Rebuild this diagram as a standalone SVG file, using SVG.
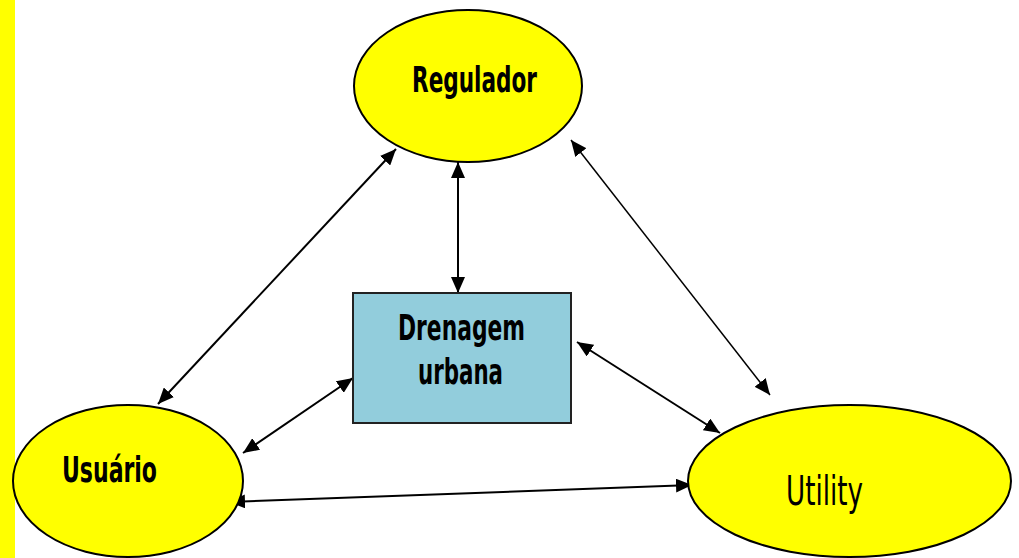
<svg xmlns="http://www.w3.org/2000/svg" width="1019" height="558" viewBox="0 0 1019 558">
  <style>
    .node { fill: #ffff00; stroke: #000; stroke-width: 2; }
    .box { fill: #92cddc; stroke: #222; stroke-width: 2; }
    .lbl { font-family: "Liberation Sans Narrow", "DejaVu Sans Condensed", "Liberation Sans", sans-serif; fill: #000; text-anchor: middle; }
    .bold { font-weight: bold; font-size: 36px; }
    .plain { font-size: 41px; }
    .link { stroke: #000; stroke-width: 2; fill: none; marker-start: url(#head); marker-end: url(#head); }
    .thin { stroke-width: 1.5; }
  </style>
  <defs>
    <marker id="head" viewBox="0 0 16 14" refX="16" refY="7" markerWidth="16" markerHeight="14" markerUnits="userSpaceOnUse" orient="auto-start-reverse">
      <path d="M0,0 L16,7 L0,14 Z" fill="#000"/>
    </marker>
  </defs>

  <rect x="0" y="0" width="1019" height="558" fill="#fff"/>
  <rect x="0" y="0" width="15" height="558" fill="#ffff00"/>

  <g id="connectors">
    <line class="link" x1="158" y1="404" x2="396" y2="149"/>
    <line class="link" x1="458" y1="162" x2="458" y2="293"/>
    <line class="link thin" x1="571" y1="140" x2="770" y2="395"/>
    <line class="link" x1="577" y1="342" x2="720" y2="433"/>
    <line class="link" x1="243" y1="453" x2="353" y2="378"/>
    <line class="link" x1="229" y1="502" x2="692" y2="485"/>
  </g>

  <g id="regulador">
    <ellipse class="node" cx="468" cy="86" rx="114" ry="76"/>
    <text class="lbl bold" x="474.5" y="92" textLength="125" lengthAdjust="spacingAndGlyphs">Regulador</text>
  </g>

  <g id="drenagem">
    <rect class="box" x="353" y="293" width="218" height="130"/>
    <text class="lbl bold" x="461.5" y="340" textLength="127" lengthAdjust="spacingAndGlyphs">Drenagem</text>
    <text class="lbl bold" x="460.5" y="384" textLength="85" lengthAdjust="spacingAndGlyphs">urbana</text>
  </g>

  <g id="usuario">
    <ellipse class="node" cx="128" cy="481" rx="115" ry="76"/>
    <text class="lbl bold" x="109.5" y="482" textLength="95" lengthAdjust="spacingAndGlyphs">Usuário</text>
  </g>

  <g id="utility">
    <ellipse class="node" cx="849.5" cy="481" rx="161.5" ry="76"/>
    <text class="lbl plain" x="824.5" y="505" textLength="77" lengthAdjust="spacingAndGlyphs">Utility</text>
  </g>
</svg>
